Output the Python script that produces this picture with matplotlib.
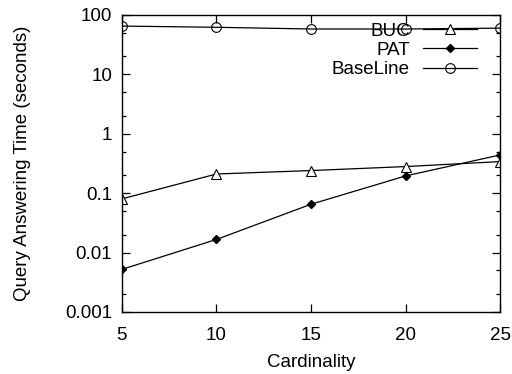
import matplotlib
matplotlib.use("Agg")
import matplotlib.pyplot as plt
from matplotlib.ticker import LogLocator, FixedLocator, NullFormatter

plt.rcParams['font.family'] = ['Liberation Sans', 'DejaVu Sans']

cardinality = [5, 10, 15, 20, 25]
buc = [0.08, 0.21, 0.24, 0.28, 0.34]
pat = [0.0052, 0.0166, 0.065, 0.195, 0.44]
baseline = [65, 62, 58, 58, 60]
y_ticks = [0.001, 0.01, 0.1, 1, 10, 100]
y_tick_labels = ['0.001', '0.01', '0.1', '1', '10', '100']

FS = 13.5

fig = plt.figure(figsize=(5.12, 3.74), dpi=100)
ax = fig.add_axes([0.238, 0.166, 0.739, 0.794])

ax.plot(cardinality, buc, color='black', lw=0.9, marker='^', markersize=6.5,
        markerfacecolor='white', markeredgecolor='black', markeredgewidth=0.8, label='BUC')
ax.plot(cardinality, pat, color='black', lw=0.9, marker='D', markersize=4.5,
        markerfacecolor='black', markeredgecolor='black', label='PAT')
ax.plot(cardinality, baseline, color='black', lw=0.9, marker='o', markersize=7,
        markerfacecolor='none', markeredgecolor='black', markeredgewidth=0.8, label='BaseLine')

ax.set_yscale('log')
ax.set_ylim(0.001, 100)
ax.set_xlim(5, 25)
ax.set_xticks(cardinality)
ax.set_xticklabels([str(c) for c in cardinality])
ax.yaxis.set_major_locator(FixedLocator(y_ticks))
ax.set_yticklabels(y_tick_labels)
ax.yaxis.set_minor_locator(LogLocator(base=10, subs=[2, 5]))
ax.yaxis.set_minor_formatter(NullFormatter())

ax.tick_params(which='both', direction='in', top=True, right=True, labelsize=FS, width=0.9)
ax.tick_params(which='major', length=6)
ax.tick_params(axis='y', which='major', pad=7)
ax.tick_params(axis='x', which='major', pad=11)
ax.tick_params(which='minor', length=3)
for s in ax.spines.values():
    s.set_linewidth(1.0)

ax.set_xlabel('Cardinality', fontsize=FS, labelpad=7)
ax.set_ylabel('Query Answering Time (seconds)', fontsize=FS)
ax.yaxis.set_label_coords(-0.241, 0.5)

ax.legend(loc='upper right', bbox_to_anchor=(0.979, 1.025), frameon=False,
          markerfirst=False, fontsize=FS, handlelength=2.9, handletextpad=0.7,
          labelspacing=0.12, borderpad=0.3)

fig.savefig('out.png', dpi=100)
